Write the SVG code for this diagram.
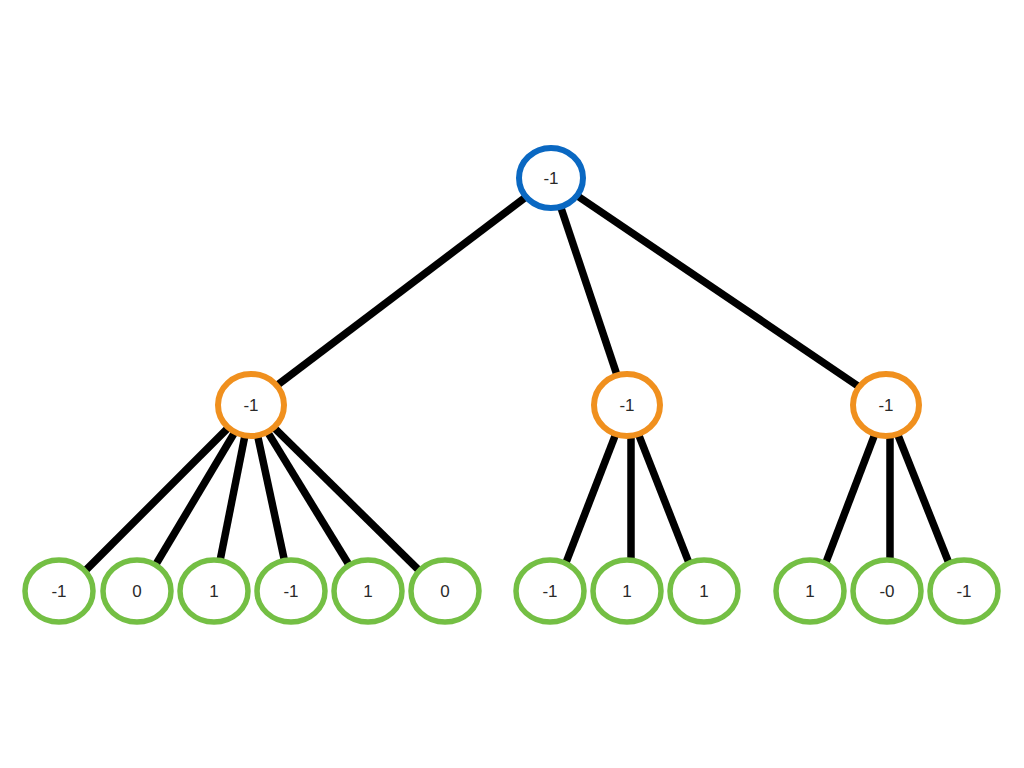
<svg xmlns="http://www.w3.org/2000/svg" width="1024" height="768" viewBox="0 0 1024 768">
<style>
.e{stroke:#000;stroke-width:7.5;stroke-linecap:butt}
.n{fill:#fff;stroke-width:6}
.root{stroke:#0a68c2}
.mid{stroke:#f0901e}
.leaf{stroke:#74bf44;stroke-width:5.5}
text{font-family:"Liberation Sans",Arial,sans-serif;font-size:17px;fill:#2a2a2a;text-anchor:middle;dominant-baseline:central}
</style>
<rect width="1024" height="768" fill="#fff"/>
<g id="connectors">
<line class="e" x1="551" y1="178" x2="251" y2="405"/>
<line class="e" x1="551" y1="178" x2="627" y2="405"/>
<line class="e" x1="551" y1="178" x2="886" y2="405"/>
<line class="e" x1="251" y1="405" x2="65" y2="591"/>
<line class="e" x1="251" y1="405" x2="140" y2="591"/>
<line class="e" x1="251" y1="405" x2="214" y2="591"/>
<line class="e" x1="251" y1="405" x2="291" y2="591"/>
<line class="e" x1="251" y1="405" x2="365" y2="591"/>
<line class="e" x1="251" y1="405" x2="440" y2="591"/>
<line class="e" x1="627" y1="405" x2="555" y2="591"/>
<line class="e" x1="631" y1="405" x2="631" y2="591"/>
<line class="e" x1="627" y1="405" x2="700" y2="591"/>
<line class="e" x1="886" y1="405" x2="815" y2="591"/>
<line class="e" x1="890" y1="405" x2="890" y2="591"/>
<line class="e" x1="886" y1="405" x2="960" y2="591"/>
</g>
<g id="root"><ellipse class="n root" cx="551" cy="178" rx="32" ry="30"/><text x="551" y="178">-1</text></g>
<g id="mid1"><ellipse class="n mid" cx="251" cy="405" rx="33" ry="31"/><text x="251" y="405">-1</text></g>
<g id="mid2"><ellipse class="n mid" cx="627" cy="405" rx="33" ry="31"/><text x="627" y="405">-1</text></g>
<g id="mid3"><ellipse class="n mid" cx="886" cy="405" rx="33" ry="31"/><text x="886" y="405">-1</text></g>
<g id="leaf1"><ellipse class="n leaf" cx="59" cy="591" rx="34" ry="31"/><text x="59" y="591">-1</text></g>
<g id="leaf2"><ellipse class="n leaf" cx="137" cy="591" rx="34" ry="31"/><text x="137" y="591">0</text></g>
<g id="leaf3"><ellipse class="n leaf" cx="214" cy="591" rx="34" ry="31"/><text x="214" y="591">1</text></g>
<g id="leaf4"><ellipse class="n leaf" cx="291" cy="591" rx="34" ry="31"/><text x="291" y="591">-1</text></g>
<g id="leaf5"><ellipse class="n leaf" cx="368" cy="591" rx="34" ry="31"/><text x="368" y="591">1</text></g>
<g id="leaf6"><ellipse class="n leaf" cx="445" cy="591" rx="34" ry="31"/><text x="445" y="591">0</text></g>
<g id="leaf7"><ellipse class="n leaf" cx="550" cy="591" rx="34" ry="31"/><text x="550" y="591">-1</text></g>
<g id="leaf8"><ellipse class="n leaf" cx="627" cy="591" rx="34" ry="31"/><text x="627" y="591">1</text></g>
<g id="leaf9"><ellipse class="n leaf" cx="704" cy="591" rx="34" ry="31"/><text x="704" y="591">1</text></g>
<g id="leaf10"><ellipse class="n leaf" cx="810" cy="591" rx="34" ry="31"/><text x="810" y="591">1</text></g>
<g id="leaf11"><ellipse class="n leaf" cx="887" cy="591" rx="34" ry="31"/><text x="887" y="591">-0</text></g>
<g id="leaf12"><ellipse class="n leaf" cx="964" cy="591" rx="34" ry="31"/><text x="964" y="591">-1</text></g>
</svg>
